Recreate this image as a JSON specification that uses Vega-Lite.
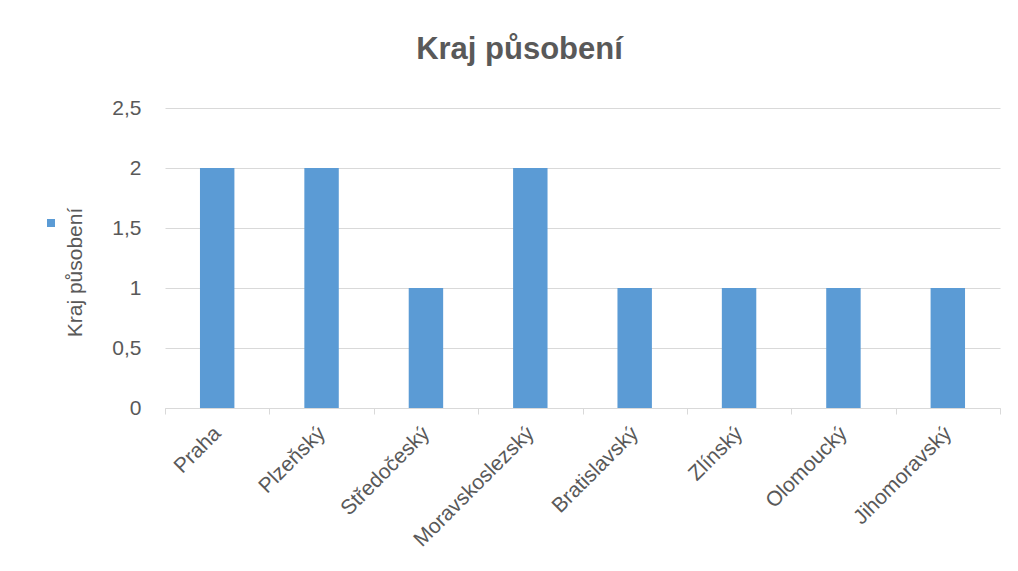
{
  "$schema": "https://vega.github.io/schema/vega-lite/v6.json",
  "width": 835,
  "height": 300,
  "autosize": {"type": "none"},
  "padding": {"left": 165, "top": 108, "right": 18, "bottom": 163},
  "background": "white",
  "title": {
    "text": "Kraj působení",
    "font": "Liberation Sans",
    "fontSize": 31,
    "fontWeight": "bold",
    "color": "#595959",
    "anchor": "middle",
    "dx": -63,
    "offset": 31
  },
  "data": {
    "values": [
      {"kraj": "Praha", "pocet": 2, "serie": "Kraj působení"},
      {"kraj": "Plzeňský", "pocet": 2, "serie": "Kraj působení"},
      {"kraj": "Středočeský", "pocet": 1, "serie": "Kraj působení"},
      {"kraj": "Moravskoslezský", "pocet": 2, "serie": "Kraj působení"},
      {"kraj": "Bratislavský", "pocet": 1, "serie": "Kraj působení"},
      {"kraj": "Zlínský", "pocet": 1, "serie": "Kraj působení"},
      {"kraj": "Olomoucký", "pocet": 1, "serie": "Kraj působení"},
      {"kraj": "Jihomoravský", "pocet": 1, "serie": "Kraj působení"}
    ]
  },
  "mark": {"type": "bar", "width": {"band": 0.33}},
  "encoding": {
    "x": {
      "field": "kraj",
      "type": "nominal",
      "sort": null,
      "scale": {"paddingInner": 0, "paddingOuter": 0},
      "axis": {
        "title": null,
        "labelAngle": -45,
        "labelAlign": "right",
        "labelBaseline": "middle",
        "labelFont": "Liberation Sans",
        "labelFontSize": 21,
        "labelColor": "#595959",
        "labelPadding": 16,
        "tickBand": "extent",
        "tickColor": "#D9D9D9",
        "tickSize": 6,
        "domainColor": "#D9D9D9",
        "domainWidth": 1,
        "grid": false
      }
    },
    "y": {
      "field": "pocet",
      "type": "quantitative",
      "scale": {"domain": [0, 2.5]},
      "axis": {
        "values": [0, 0.5, 1, 1.5, 2, 2.5],
        "format": "~g",
        "labelExpr": "replace(datum.label, '.', ',')",
        "labelFont": "Liberation Sans",
        "labelFontSize": 21,
        "labelColor": "#595959",
        "labelPadding": 24,
        "ticks": false,
        "domain": false,
        "grid": true,
        "gridColor": "#D9D9D9",
        "title": "Kraj působení",
        "titleFont": "Liberation Sans",
        "titleFontSize": 21,
        "titleFontWeight": "normal",
        "titleColor": "#595959",
        "titleAngle": -90,
        "titleX": -90,
        "titleY": 164,
        "titleAlign": "center",
        "titleBaseline": "middle"
      }
    },
    "color": {
      "field": "serie",
      "type": "nominal",
      "scale": {"range": ["#5B9BD5"]},
      "legend": {
        "title": null,
        "orient": "none",
        "legendX": -119,
        "legendY": 110,
        "symbolType": "square",
        "symbolSize": 64,
        "symbolStrokeWidth": 0,
        "labelExpr": "''",
        "labelOffset": 0,
        "padding": 0
      }
    }
  },
  "config": {
    "view": {"stroke": null}
  }
}
